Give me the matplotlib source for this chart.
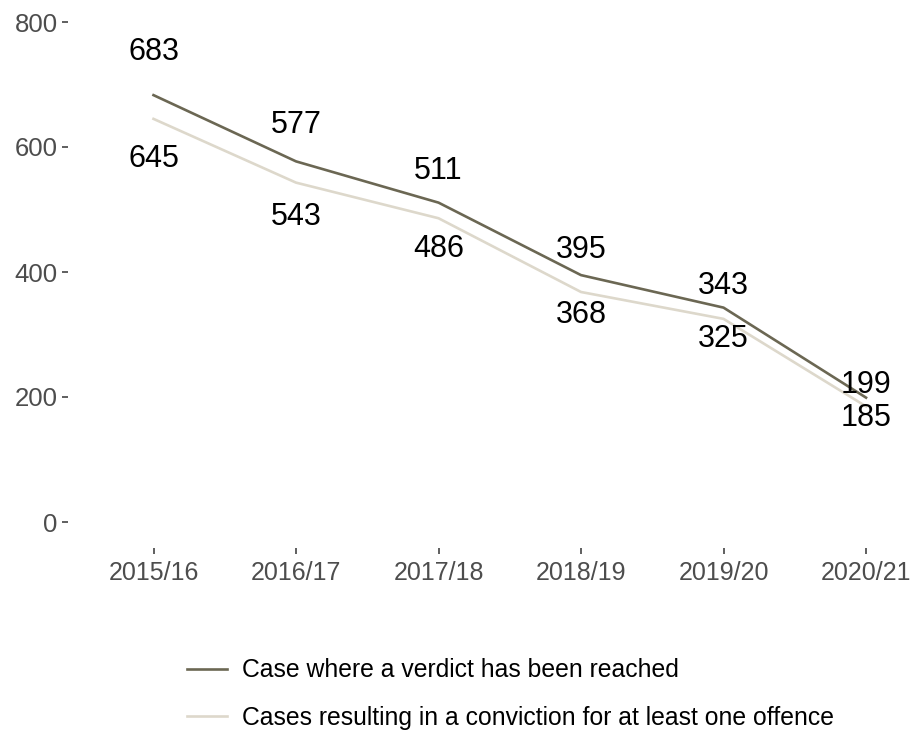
import matplotlib
matplotlib.use("Agg")
import matplotlib.pyplot as plt
import numpy as np

plt.rcParams['font.family'] = ['Liberation Sans', 'DejaVu Sans']

years = ["2015/16", "2016/17", "2017/18", "2018/19", "2019/20", "2020/21"]
verdict = [683, 577, 511, 395, 343, 199]
conviction = [645, 543, 486, 368, 325, 185]
series_names = ["Case where a verdict has been reached",
                "Cases resulting in a conviction for at least one offence"]
yticks = [0, 200, 400, 600, 800]

W, H = 914, 736
fig = plt.figure(figsize=(W / 100, H / 100), dpi=100)
left, right, top, bottom = 68, 914, 0, 548
ax = fig.add_axes([left / W, 1 - bottom / H, (right - left) / W, (bottom - top) / H])

x = np.arange(1, len(years) + 1)
dark = "#6b6753"
light = "#ddd8cb"
ax.plot(x, verdict, color=dark, lw=1.9, label=series_names[0], zorder=3)
ax.plot(x, conviction, color=light, lw=1.9, label=series_names[1], zorder=2)

for xi, v in zip(x, verdict):
    ax.text(xi, v * 1.1, str(v), ha="center", va="center", fontsize=22, color="black")
for xi, v in zip(x, conviction):
    ax.text(xi, v * 0.9, str(v), ha="center", va="center", fontsize=22, color="black")

ax.set_xlim(0.4, 6 + (914 - 866) / 142.6)
ax.set_ylim(-41.6, 835.2)
ax.set_xticks(x)
ax.set_xticklabels(years)
ax.set_yticks(yticks)
ax.tick_params(axis="both", colors="#444444", labelcolor="#4d4d4d", labelsize=18,
               length=4.5, width=1.2)
ax.tick_params(axis="x", pad=5)
ax.tick_params(axis="y", pad=3, labelsize=18.5)
for s in ax.spines.values():
    s.set_visible(False)

handles, labels = ax.get_legend_handles_labels()
fig.legend(handles, labels, loc="upper left", bbox_to_anchor=(165 / W, 1 - 636 / H),
           frameon=False, fontsize=17.8, handlelength=1.6, handletextpad=0.6,
           labelspacing=0.95)

fig.savefig("out.png", dpi=100)
